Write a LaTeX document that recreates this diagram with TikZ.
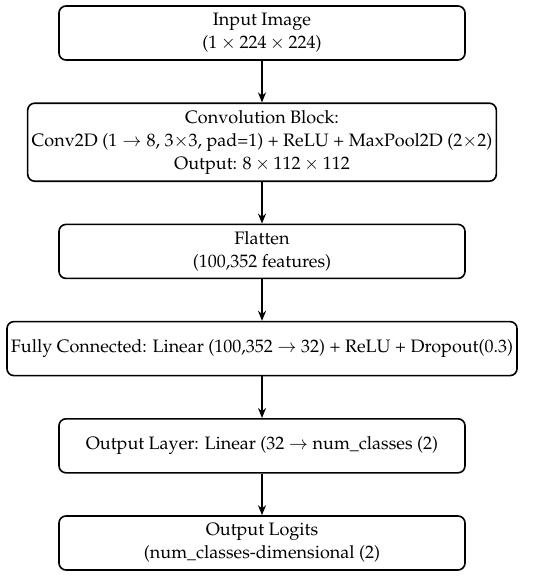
\documentclass[tikz,border=0pt]{standalone}
\usepackage[T1]{fontenc}
\usepackage{amsmath, amssymb, mathpazo}
\usetikzlibrary{positioning, arrows.meta}

\begin{document}
\begin{tikzpicture}[
    x=1pt, y=1pt,
    node distance=20.8pt,
    block/.style={draw, line width=0.8pt, rounded corners=3.5pt, align=center,
                  minimum height=27pt, inner sep=2pt,
                  font=\fontsize{9}{11.5}\selectfont},
    flow/.style={-{Stealth[length=5pt,width=4pt]}, line width=0.8pt}
]
% fix the page to the size of the reference
\useasboundingbox (0,0) rectangle (275,-289);
%Start with the input, and stack each layer below the last one
\node[block, minimum width=203pt] (input) at (131,-16.5)
    {Input Image\\($1 \times 224 \times 224$)};
\node[block, minimum width=233.5pt, minimum height=39pt, below=of input] (conv)
    {Convolution Block:\\Conv2D ($1 \to 8$, 3$\times$3, pad=1) + ReLU + MaxPool2D (2$\times$2)\\Output: $8 \times 112 \times 112$};
\node[block, minimum width=203pt, below=of conv] (flat)
    {Flatten\\(100,352 features)};
\node[block, minimum width=255pt, below=of flat] (fc)
    {Fully Connected: Linear (100,352 $\to$ 32) + ReLU + Dropout(0.3)};
\node[block, minimum width=203pt, below=of fc] (outlayer)
    {Output Layer: Linear (32 $\to$ num\_classes (2)};
\node[block, minimum width=203pt, below=of outlayer] (logits)
    {Output Logits\\(num\_classes-dimensional (2)};
% arrows between the layers
\draw[flow] (input) -- (conv);
\draw[flow] (conv) -- (flat);
\draw[flow] (flat) -- (fc);
\draw[flow] (fc) -- (outlayer);
\draw[flow] (outlayer) -- (logits);
\end{tikzpicture}
\end{document}
